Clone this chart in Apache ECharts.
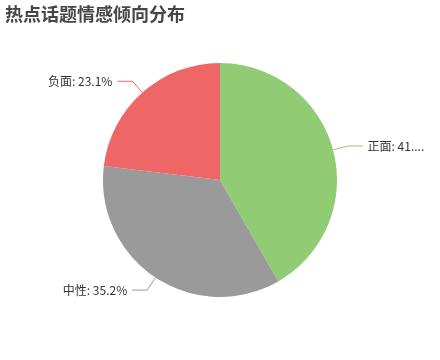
<!DOCTYPE html>
<html><head><meta charset="utf-8">
<script src="https://cdn.jsdelivr.net/npm/echarts@6/dist/echarts.min.js"></script>
<style>html,body{margin:0;padding:0;background:#fff}#c{width:440px;height:360px}</style>
</head><body><div id="c"></div>
<script>
const categories = ['正面', '中性', '负面'];
const values = [41.7, 35.2, 23.1];
const colors = ['#91cc75', '#9a9a9a', '#ee6666'];
const chart = echarts.init(document.getElementById('c'));
chart.setOption({
  animation: false,
  title: {
    text: '热点话题情感倾向分布', left: 0, top: 0,
    textStyle: { fontSize: 18, fontWeight: 'bold', color: '#464646', fontFamily: 'Noto Sans CJK SC' }
  },
  series: [{
    type: 'pie', radius: '65%', center: ['50%', '50%'],
    label: { formatter: '{b}: {d}%', fontSize: 12, color: '#333', fontFamily: 'Noto Sans CJK SC', alignTo: 'none' },
    labelLine: { length: 15, length2: 15 },
    data: categories.map((c, i) => ({ name: c, value: values[i], itemStyle: { color: colors[i] } }))
  }]
});
</script></body></html>
